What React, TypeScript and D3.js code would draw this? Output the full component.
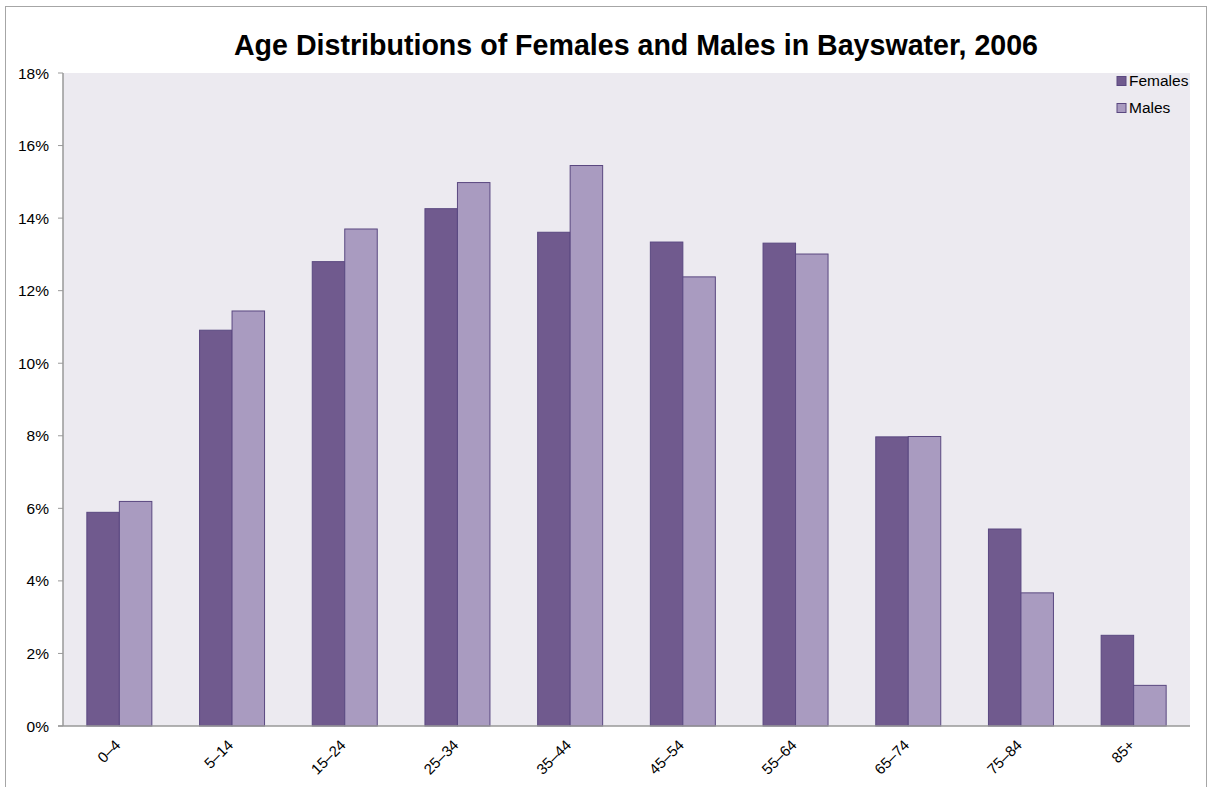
import React from "react";
import * as d3 from "d3";

const categories = ["0–4", "5–14", "15–24", "25–34", "35–44", "45–54", "55–64", "65–74", "75–84", "85+"];
const females = [5.89, 10.91, 12.8, 14.26, 13.61, 13.34, 13.31, 7.97, 5.43, 2.5];
const males = [6.19, 11.44, 13.7, 14.98, 15.45, 12.38, 13.01, 7.98, 3.67, 1.12];
const yTicks = [0, 2, 4, 6, 8, 10, 12, 14, 16, 18];
const seriesNames = ["Females", "Males"];
const title = "Age Distributions of Females and Males in Bayswater, 2006";

const W = 1208;
const H = 787;
const plot = { left: 63, right: 1190, top: 73, bottom: 726 };
const colors = ["#705A8E", "#A99BC0"];
const stroke = "#5A4880";

export default function App() {
  const x = d3.scaleBand<string>().domain(categories).range([plot.left, plot.right]).paddingInner(0).paddingOuter(0);
  const y = d3.scaleLinear().domain([0, 18]).range([plot.bottom, plot.top]);
  const groupW = 65;
  const barW = groupW / 2;
  const font = "Liberation Sans, Arial, sans-serif";
  const series = [females, males];

  return (
    <div style={{ position: "fixed", left: 0, top: 0, width: W, height: H, background: "#fff" }}>
      <svg width={W} height={H} style={{ display: "block" }} fontFamily={font}>
        <rect x={5.5} y={6.5} width={1201} height={800} fill="#fff" stroke="#a6a6a6" strokeWidth={1} />
        <rect x={plot.left} y={plot.top} width={plot.right - plot.left} height={plot.bottom - plot.top} fill="#ECEAF0" />
        <text x={636} y={55} textAnchor="middle" fontSize={28.6} fontWeight="bold" fill="#000">{title}</text>
        {series.map((vals, si) =>
          vals.map((v, i) => {
            const c = (x(categories[i]) as number) + x.bandwidth() / 2;
            const bx = c - groupW / 2 + si * barW;
            return (
              <rect key={`${si}-${i}`} x={bx} y={y(v)} width={barW} height={y(0) - y(v)}
                fill={colors[si]} stroke={stroke} strokeWidth={1} />
            );
          })
        )}
        <line x1={plot.left} x2={plot.left} y1={plot.top} y2={plot.bottom} stroke="#999" strokeWidth={1.5} />
        <line x1={plot.left - 5} x2={plot.right} y1={plot.bottom} y2={plot.bottom} stroke="#999" strokeWidth={1.5} />
        {yTicks.map((t) => (
          <g key={t}>
            <line x1={plot.left - 5} x2={plot.left} y1={y(t)} y2={y(t)} stroke="#999" strokeWidth={1} />
            <text x={plot.left - 14} y={y(t) + 5.5} textAnchor="end" fontSize={15.5} fill="#000">{`${t}%`}</text>
          </g>
        ))}
        {categories.map((c) => {
          const cx = (x(c) as number) + x.bandwidth() / 2;
          return (
            <text key={c} transform={`translate(${cx + 2},${plot.bottom + 20}) rotate(-45)`} textAnchor="end"
              fontSize={15} fill="#000">{c}</text>
          );
        })}
        {seriesNames.map((n, i) => (
          <g key={n} transform={`translate(1117,${81 + i * 27})`}>
            <rect x={0} y={-4.5} width={9} height={9} fill={colors[i]} stroke={stroke} strokeWidth={1} />
            <text x={12} y={5} fontSize={15.5} fill="#000">{n}</text>
          </g>
        ))}
      </svg>
    </div>
  );
}
